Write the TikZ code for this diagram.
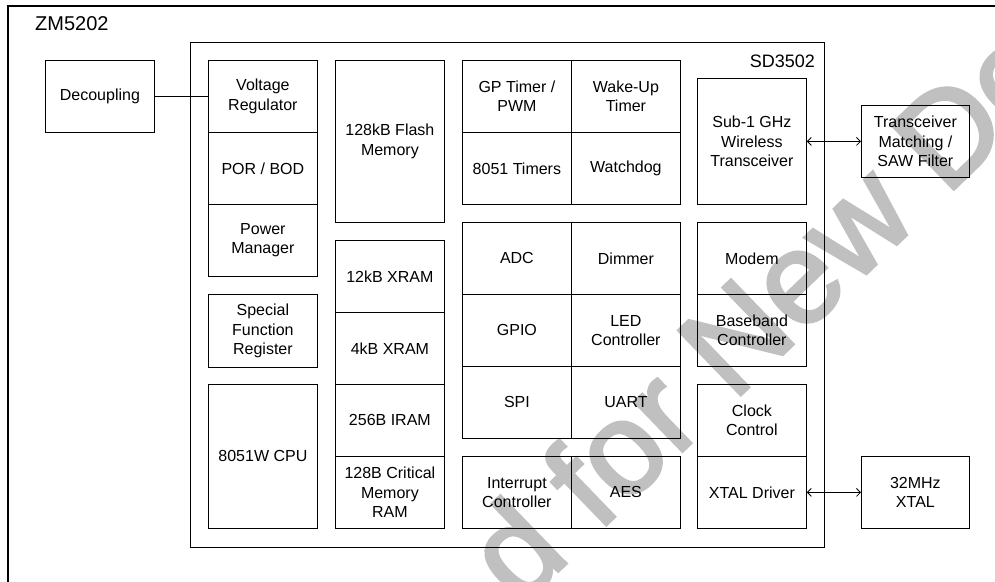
\documentclass[tikz,border=0pt]{standalone}
\usepackage{fontspec}
\setmainfont{Liberation Sans}
\newfontfamily\wmfont[FakeBold=2.5]{Liberation Sans}
\usetikzlibrary{arrows.meta}
\definecolor{wm}{RGB}{192,192,192}
\begin{document}
\begin{tikzpicture}[x=1pt,y=-1pt,
  box/.style={draw, line width=0.8pt, inner sep=0pt, align=center, anchor=north west,
    minimum width=109pt, minimum height=72pt, font=\fontsize{16}{19.5}\selectfont},
  link/.style={line width=0.8pt},
  biarrow/.style={line width=0.8pt, {Straight Barb[length=4pt,width=8pt]}-{Straight Barb[length=4pt,width=8pt]}},
]
\useasboundingbox (0,0) rectangle (995,581);
\clip (0,0) rectangle (995,581);
% watermark
\node[text=wm, font=\wmfont\fontsize{130}{130}\selectfont, rotate=44, anchor=base west, inner sep=0pt] (wmark) at (520,608) {d for New De};
% outer frame
\draw[line width=2pt] (8,600) -- (8,6) -- (1000,6);
\node[anchor=base west, inner sep=0pt, font=\fontsize{20}{24}\selectfont] (zm) at (35,30.5) {ZM5202};
% SD3502 chip
\node[draw, line width=1.1pt, anchor=north west, minimum width=634pt, minimum height=505pt, inner sep=0pt] (sd) at (190,42) {};
\node[anchor=base east, inner sep=0pt, font=\fontsize{18}{22}\selectfont] (sdl) at (815,67) {SD3502};
% column 1
\node[box] (vreg) at (208,60) {Voltage\\Regulator};
\node[box] (por) at (208,132) {POR / BOD};
\node[box] (pm) at (208,204) {Power\\Manager};
\node[box, minimum height=73pt] (sfr) at (208,294) {Special\\Function\\Register};
\node[box, minimum height=144pt] (cpu) at (208,384) {8051W CPU};
% column 2
\node[box, minimum height=162pt] (flash) at (335,60) {128kB Flash\\Memory};
\node[box] (x12) at (335,240) {12kB XRAM};
\node[box] (x4) at (335,312) {4kB XRAM};
\node[box] (iram) at (335,384) {256B IRAM};
\node[box] (crit) at (335,456) {128B Critical\\Memory\\RAM};
% columns 3 and 4
\node[box] (gpt) at (462,60) {GP Timer /\\PWM};
\node[box] (wut) at (571,60) {Wake-Up\\Timer};
\node[box] (t51) at (462,132) {8051 Timers};
\node[box] (wdg) at (571,132) {Watchdog};
\node[box] (adc) at (462,222) {ADC};
\node[box] (dim) at (571,222) {Dimmer};
\node[box] (gpio) at (462,294) {GPIO};
\node[box] (led) at (571,294) {LED\\Controller};
\node[box] (spi) at (462,366) {SPI};
\node[box] (uart) at (571,366) {UART};
\node[box] (irq) at (462,456) {Interrupt\\Controller};
\node[box] (aes) at (571,456) {AES};
% column 5
\node[box, minimum height=126pt] (sub) at (697,78) {Sub-1 GHz\\Wireless\\Transceiver};
\node[box] (modem) at (697,222) {Modem};
\node[box] (bb) at (697,294) {Baseband\\Controller};
\node[box] (clk) at (697,384) {Clock\\Control};
\node[box] (xtal) at (697,456) {XTAL Driver};
% external
\node[box] (dec) at (45,60) {Decoupling};
\node[box, minimum width=108pt] (trx) at (861,105) {Transceiver\\Matching /\\SAW Filter};
\node[box, minimum width=108pt] (xo) at (861,456) {32MHz\\XTAL};
% connectors
\draw[link] (dec.east) -- (vreg.west);
\draw[biarrow] (sub.east) -- (trx.west);
\draw[biarrow] (xtal.east) -- (xo.west);
\end{tikzpicture}
\end{document}
